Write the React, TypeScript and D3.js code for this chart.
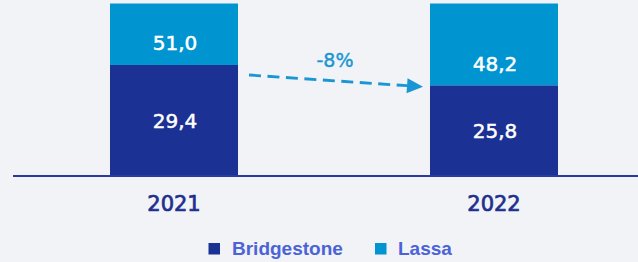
import React from "react";
import * as d3 from "d3";

const years = ["2021", "2022"];
const bridgestone = [29.4, 25.8];
const lassa = [51.0, 48.2];
const seriesNames = ["Bridgestone", "Lassa"];
const changeLabel = "-8%";

const W = 638;
const H = 262;
const C_BRIDGE = "#1b3193";
const C_LASSA = "#0094d1";
const C_BG = "#f2f3f6";
const C_AXIS = "#2b3a9e";
const C_YEAR = "#1f2f8f";
const C_LEGEND = "#4a63d6";
const C_ARROW = "#1996d3";
const FONT = "'DejaVu Sans', sans-serif";

const fmt = (v: number) => v.toFixed(1).replace(".", ",");

export default function App() {
  const x = d3.scaleBand<string>().domain(years).range([14, 654]).paddingInner(0.6).paddingOuter(0.3);
  // value axis does not start at zero; bar tops are clamped to the plot top
  const y = d3.scaleLinear().domain([9.72, 40.3]).range([176, 3.5]).clamp(true);

  const rows = years.map((yr, i) => ({ yr, b: bridgestone[i], l: lassa[i] }));
  const stack = d3.stack<any>().keys(["b", "l"])(rows as any);

  const bw = x.bandwidth();
  const boundary = rows.map((r) => y(r.b));

  const ax0 = (x(years[0]) as number) + bw + 11;
  const ax1 = (x(years[1]) as number) - 7;
  const ay0 = boundary[0] + 10;
  const ay1 = boundary[1] + 1.5;
  const ang = Math.atan2(ay1 - ay0, ax1 - ax0);
  const headL = 16;
  const headW = 7.5;
  const bx = ax1 - headL * Math.cos(ang);
  const by = ay1 - headL * Math.sin(ang);
  const px = -Math.sin(ang) * headW;
  const py = Math.cos(ang) * headW;

  return (
    <svg width={W} height={H} style={{ position: "absolute", left: 0, top: 0, display: "block" }}>
      <rect x={0} y={0} width={W} height={H} fill={C_BG} />
      {stack.map((s, si) => (
        <g key={si} fill={si === 0 ? C_BRIDGE : C_LASSA}>
          {s.map((d: any, i: number) => (
            <rect
              key={i}
              x={x(years[i])}
              y={y(d[1])}
              width={bw}
              height={y(d[0]) - y(d[1])}
            />
          ))}
        </g>
      ))}
      <line x1={13} x2={W} y1={176} y2={176} stroke={C_AXIS} strokeWidth={2.2} />
      {rows.map((r, i) => {
        const cx = (x(r.yr) as number) + bw / 2 + 1;
        const bTop = boundary[i];
        const bMid = (bTop + y(0)) / 2;
        return (
          <g key={r.yr} fontFamily={FONT} textAnchor="middle">
            <text x={cx} y={bMid + 7.3} fill="#fff" stroke="#fff" strokeWidth={0.5} fontSize={20}>{fmt(r.b)}</text>
            <text x={cx} y={bTop - 14.5} fill="#fff" stroke="#fff" strokeWidth={0.5} fontSize={20}>{fmt(r.l)}</text>
            <text x={cx - 1} y={211} fill={C_YEAR} fontSize={21} stroke={C_YEAR} strokeWidth={0.7}>{r.yr}</text>
          </g>
        );
      })}
      <line
        x1={ax0}
        y1={ay0}
        x2={bx}
        y2={by}
        stroke={C_ARROW}
        strokeWidth={2.8}
        strokeDasharray="12 6.5"
      />
      <path
        d={`M${ax1},${ay1}L${bx + px},${by + py}L${bx - px},${by - py}Z`}
        fill={C_ARROW}
      />
      <text x={335} y={67.3} fill={C_ARROW} stroke={C_ARROW} strokeWidth={0.4} fontFamily={FONT} fontSize={19} textAnchor="middle">
        {changeLabel}
      </text>
      <g fontFamily="'Liberation Sans', Arial, sans-serif" fontWeight="bold" fontSize={19} fill={C_LEGEND}>
        <rect x={208.5} y={243} width={11.5} height={11.5} fill={C_BRIDGE} />
        <text x={232} y={255}>{seriesNames[0]}</text>
        <rect x={375} y={243} width={11.5} height={11.5} fill={C_LASSA} />
        <text x={398} y={255}>{seriesNames[1]}</text>
      </g>
    </svg>
  );
}
